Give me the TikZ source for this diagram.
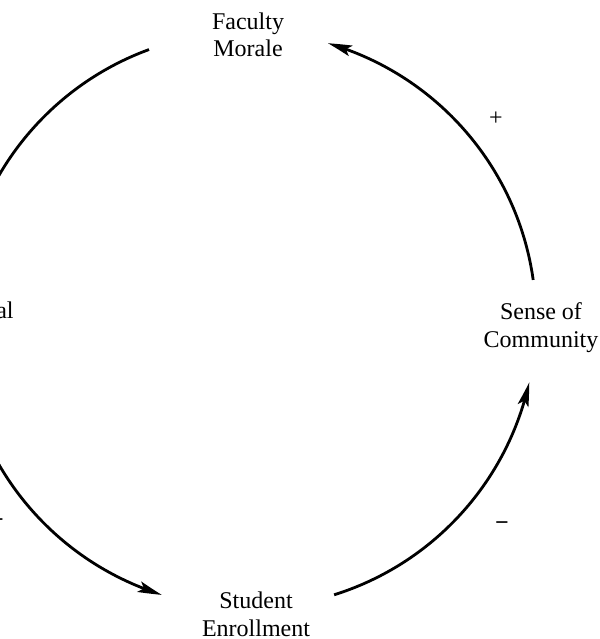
\documentclass[tikz,border=0pt]{standalone}
\usepackage{fontspec}
\setmainfont{Liberation Serif}
\usetikzlibrary{arrows.meta,bending}
\begin{document}
\begin{tikzpicture}[x=0.5pt,y=0.5pt,
  lbl/.style={font=\fontsize{12}{14}\selectfont, align=center, inner sep=0pt},
  sign/.style={font=\fontsize{12}{14}\selectfont, inner sep=0pt},
  conn/.style={line width=1.4pt, -{Stealth[length=12pt,width=5.5pt,inset=2.5pt,bend]}}]
\useasboundingbox (0,0) rectangle (600,639);
\clip (0,0) rectangle (600,639);
\coordinate (c) at (248,319);
\node[lbl, anchor=base] (fm) at (248,582) {Faculty\\Morale};
\node[lbl, anchor=base] (sc) at (541,292) {Sense of\\Community};
\node[lbl, anchor=base] (se) at (256,3) {Student\\Enrollment};
\node[lbl, anchor=base east] (lf) at (14,321) {al};
\path (c) ++(110.1:288) coordinate (p1);
\path (c) ++(192.25:288) coordinate (p3);
\path (c) ++(287.4:288) coordinate (p5);
\path (c) ++(8:288) coordinate (p7);
\draw[conn] (p1) arc[start angle=110.1, end angle=171.75, radius=288];
\draw[conn] (p3) arc[start angle=192.25, end angle=252.6, radius=288];
\draw[conn] (p5) arc[start angle=287.4, end angle=347.5, radius=288];
\draw[conn] (p7) arc[start angle=8, end angle=73.9, radius=288];
\node[sign] (s1) at (496,520) {+};
\node[sign] (s2) at (502,113) {\bfseries −};
\node[sign] (s3) at (-3,116) {\bfseries −};
\end{tikzpicture}
\end{document}
